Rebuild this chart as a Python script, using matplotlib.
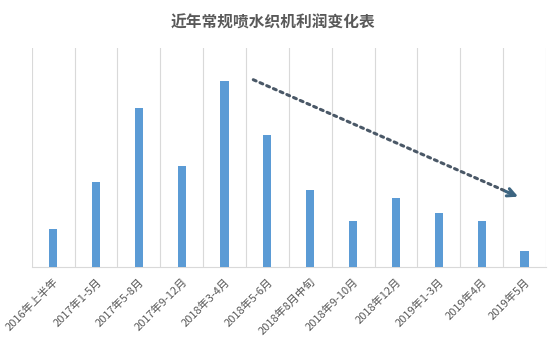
import numpy as np
import matplotlib.pyplot as plt

plt.rcParams['font.family'] = ['Noto Sans CJK SC', 'DejaVu Sans']

categories = ['2016年上半年', '2017年1-5月', '2017年5-8月', '2017年9-12月',
              '2018年3-4月', '2018年5-6月', '2018年8月中旬', '2018年9-10月',
              '2018年12月', '2019年1-3月', '2019年4月', '2019年5月']
profit = [38, 85, 159, 101, 186, 132, 77, 46, 69, 54, 46, 16]

fig = plt.figure(figsize=(5.6, 3.51), dpi=100)
ax = fig.add_axes([0.0566, 0.2402, 0.9184, 0.623])

x = np.arange(len(categories))
ax.bar(x, profit, width=0.19, color='#5B9BD5', zorder=3)

ax.set_xlim(-0.5, len(categories) - 0.5)
ax.set_ylim(0, 218.7)
ax.set_yticks([])
ax.set_xticks(x)
ax.set_xticklabels(categories, rotation=45, ha='right', rotation_mode='anchor',
                   fontsize=8, color='#595959')
ax.tick_params(axis='x', length=0, pad=7)
ax.set_xticks(np.arange(-0.5, len(categories)), minor=True)
ax.tick_params(axis='x', which='minor', length=0)
ax.grid(True, which='minor', axis='x', color='#d9d9d9', linewidth=0.8)

for s in ['top', 'left', 'right']:
    ax.spines[s].set_visible(False)
ax.spines['bottom'].set_color('#d9d9d9')

# 下降趋势箭头（虚点线）
ax.annotate('', xy=(10.85, 70), xytext=(4.67, 187),
            arrowprops=dict(arrowstyle='-', color='#4a5867', lw=2.2,
                            linestyle=(0, (1, 1.4)), shrinkA=0, shrinkB=6))
ax.annotate('', xy=(10.85, 70), xytext=(10.55, 75.5),
            arrowprops=dict(arrowstyle='->', color='#3d6581', lw=2.2,
                            mutation_scale=14, shrinkA=0, shrinkB=0))

fig.text(0.4875, 0.937, '近年常规喷水织机利润变化表', ha='center', va='center',
         fontsize=11.3, color='#595959', fontweight='bold')

fig.savefig('out.png', dpi=100)
